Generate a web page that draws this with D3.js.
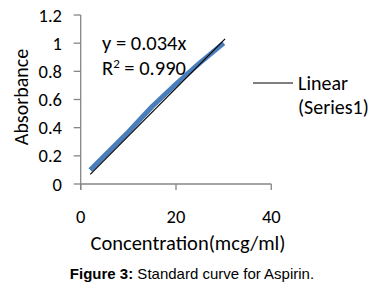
<!DOCTYPE html>
<html>
<head>
<meta charset="utf-8">
<title>Standard curve for Aspirin</title>
<style>
  body { margin: 0; background: #fff; }
  text { font-family: Carlito, Lato, "Open Sans", sans-serif; fill: #000; }
  .cap { font-family: "Liberation Sans", Arial, sans-serif; }
</style>
</head>
<body>
<svg width="376" height="289"></svg>
<script src="https://d3js.org/d3.v7.min.js"></script>
<script>
// data
const conc = [2, 5, 10, 15, 20, 25, 30];
const absorb = [0.10, 0.20, 0.37, 0.55, 0.71, 0.86, 1.00];
const slope = 0.034;
const xTicks = [0, 20, 40];
const yTicks = [0, 0.2, 0.4, 0.6, 0.8, 1, 1.2];

const svg = d3.select("svg");
const axisColor = "#868686";

const x = d3.scaleLinear().domain([0, 40]).range([80.7, 271.3]);
const y = d3.scaleLinear().domain([0, 1.2]).range([184, 15]);

// axes lines
svg.append("line")
  .attr("x1", x(0)).attr("x2", x(40))
  .attr("y1", y(0)).attr("y2", y(0))
  .attr("stroke", axisColor).attr("stroke-width", 1.3);
svg.append("line")
  .attr("x1", x(0)).attr("x2", x(0))
  .attr("y1", y(1.2)).attr("y2", y(0) + 6)
  .attr("stroke", axisColor).attr("stroke-width", 1.3);

// y ticks
svg.append("g").selectAll("line").data(yTicks).enter().append("line")
  .attr("x1", x(0) - 7).attr("x2", x(0))
  .attr("y1", d => y(d)).attr("y2", d => y(d))
  .attr("stroke", axisColor).attr("stroke-width", 1.3);
svg.append("g").selectAll("text").data(yTicks).enter().append("text")
  .attr("x", 62).attr("y", d => y(d) + 6.5)
  .attr("text-anchor", "end")
  .style("font-size", "18.5px")
  .text(d => d3.format("")(d));

// x ticks
svg.append("g").selectAll("line").data(xTicks).enter().append("line")
  .attr("x1", d => x(d)).attr("x2", d => x(d))
  .attr("y1", y(0)).attr("y2", y(0) + 6)
  .attr("stroke", axisColor).attr("stroke-width", 1.3);
svg.append("g").selectAll("text").data(xTicks).enter().append("text")
  .attr("x", d => x(d)).attr("y", 223)
  .attr("text-anchor", "middle")
  .style("font-size", "18.5px")
  .text(d => d);

// axis titles
svg.append("text")
  .attr("x", 188).attr("y", 250)
  .attr("text-anchor", "middle")
  .style("font-size", "20.5px")
  .text("Concentration(mcg/ml)");
svg.append("text")
  .attr("transform", "translate(28,97) rotate(-90)")
  .attr("text-anchor", "middle")
  .style("font-size", "20px")
  .text("Absorbance");

// data series
const line = d3.line().x(d => x(d[0])).y(d => y(d[1]));
svg.append("path")
  .datum(conc.map((c, i) => [c, absorb[i]]))
  .attr("d", line)
  .attr("fill", "none")
  .attr("stroke", "#4a7ebb")
  .attr("stroke-width", 5)
  .attr("stroke-linejoin", "round");

// linear trendline
svg.append("path")
  .datum([[conc[0], slope * conc[0]], [30.3, slope * 30.3]])
  .attr("d", line)
  .attr("fill", "none")
  .attr("stroke", "#000")
  .attr("stroke-width", 1.2);

// equation
svg.append("text").attr("x", 102).attr("y", 50)
  .style("font-size", "20.5px").text("y = 0.034x");
const r2 = svg.append("text").attr("x", 102).attr("y", 75)
  .style("font-size", "20.5px");
r2.append("tspan").text("R");
r2.append("tspan").attr("dy", -7).style("font-size", "13px").text("2");
r2.append("tspan").attr("dy", 7).text(" = 0.990");

// legend
svg.append("line")
  .attr("x1", 253).attr("x2", 293).attr("y1", 83).attr("y2", 83)
  .attr("stroke", "#000").attr("stroke-width", 1.2);
svg.append("text").attr("x", 298).attr("y", 90)
  .style("font-size", "20px").text("Linear");
svg.append("text").attr("x", 298).attr("y", 114)
  .style("font-size", "20px").text("(Series1)");

// caption
const cap = svg.append("text").attr("class", "cap")
  .attr("x", 192).attr("y", 279)
  .attr("text-anchor", "middle")
  .style("font-size", "15px");
cap.append("tspan").style("font-weight", "bold").text("Figure 3:");
cap.append("tspan").text(" Standard curve for Aspirin.");
</script>
</body>
</html>
